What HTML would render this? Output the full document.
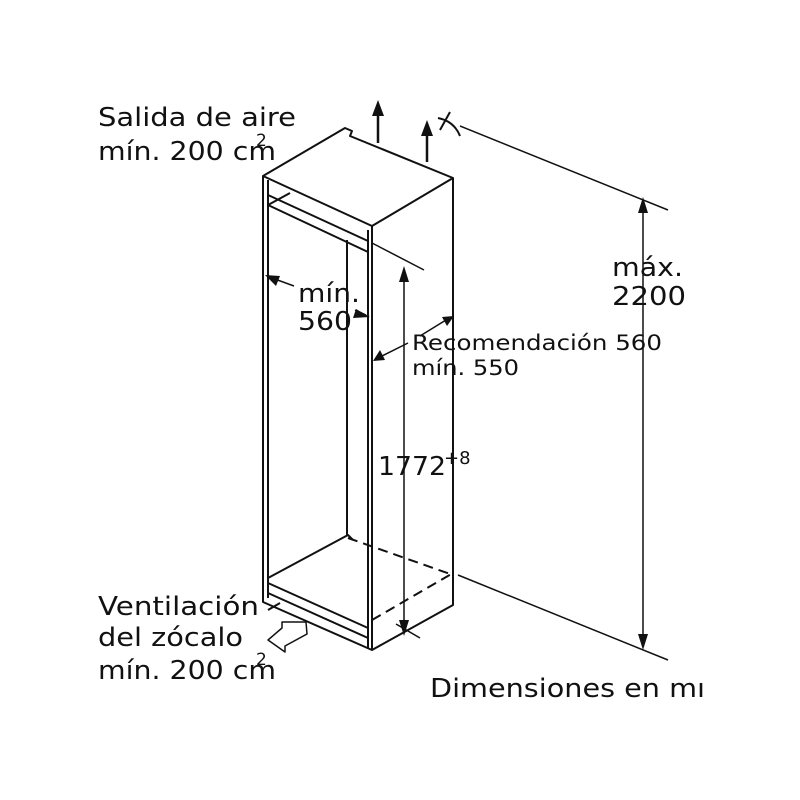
<!DOCTYPE html>
<html><head><style>body{margin:0;background:#fff}svg{display:block}</style></head><body>
<svg width="800" height="800" viewBox="0 0 800 800" xmlns="http://www.w3.org/2000/svg" font-family="DejaVu Sans, Liberation Sans, sans-serif">
<rect width="800" height="800" fill="#fff"/>
<g stroke="#111" stroke-width="2" fill="none" stroke-linejoin="round">
<path d="M263,176 L345,128 L352,131 L350,136 L453,178 L453,605 L372,650 L263,602 Z"/>
<path d="M263,176 L372,226 L453,178"/>
<path d="M372,226 L372,650"/>
<path d="M368,230 L368,648"/>
<path d="M268,180 L268,598"/>
<path d="M268,195 L368,241"/>
<path d="M268,205 L368,252"/>
<path d="M268,205 L290,193"/>
<path d="M347,240 L347,535"/>
<path d="M268,578 L348,535 L353,540"/>
<path d="M268,583 L368,628"/>
<path d="M268,593 L368,638"/>
<path d="M268,610 L280,603"/>
<path d="M348,538 L453,575" stroke-dasharray="10,6"/>
<path d="M372,620 L453,573" stroke-dasharray="10,6"/>
<path d="M460,126 L668,210" stroke-width="1.5"/>
<path d="M458,575 L668,660" stroke-width="1.5"/>
<path d="M372,243 L424,270" stroke-width="1.5"/>
<path d="M396,624 L420,638" stroke-width="1.5"/>
<path d="M643,205 L643,642" stroke-width="1.5"/>
<path d="M404,275 L404,628" stroke-width="1.5"/>
<path d="M272,278 L294,286" stroke-width="1.5"/>
<path d="M355,310 L366,315" stroke-width="1.5"/>
<path d="M380,357 L408,343 M420,336 L446,320" stroke-width="1.5"/>
<path d="M378,143 L378,112 M427,162 L427,132" stroke-width="2.5"/>
<path d="M440,130 L450,112 M438,118 C448,120 456,126 460,136"/>
<path d="M268,640 L282,628 L282,622 L306,622 L307,634 L285,646 L285,652 Z" stroke-width="1.5"/>
</g>
<g fill="#111">
<path d="M643,197 L638,213 L648,213 Z"/>
<path d="M643,650 L638,634 L648,634 Z"/>
<path d="M404,266 L399,282 L409,282 Z"/>
<path d="M404,636 L399,620 L409,620 Z"/>
<path d="M378,100 L372,116 L384,116 Z"/>
<path d="M427,120 L421,136 L433,136 Z"/>
<path d="M265,275 L280,276 L276,286 Z"/>
<path d="M370,317 L356,309 L353,318 Z"/>
<path d="M373,361 L380,350 L385,360 Z"/>
<path d="M454,316 L442,317 L447,326 Z"/>
</g>
<g font-size="26" fill="#111" lengthAdjust="spacingAndGlyphs">
<text x="98" y="126" textLength="198" lengthAdjust="spacingAndGlyphs">Salida de aire</text>
<text x="98" y="160" textLength="178" lengthAdjust="spacingAndGlyphs">mín. 200 cm</text>
<text x="256" y="146" font-size="17">2</text>
<text x="612" y="276" textLength="71" lengthAdjust="spacingAndGlyphs">máx.</text>
<text x="612" y="305" textLength="74" lengthAdjust="spacingAndGlyphs">2200</text>
<text x="298" y="302" textLength="62" lengthAdjust="spacingAndGlyphs">mín.</text>
<text x="298" y="330" textLength="54" lengthAdjust="spacingAndGlyphs">560</text>
<text x="378" y="475" textLength="68" lengthAdjust="spacingAndGlyphs">1772</text>
<text x="444" y="464" font-size="18">+8</text>
<text x="98" y="615" textLength="161" lengthAdjust="spacingAndGlyphs">Ventilación</text>
<text x="98" y="646" textLength="145" lengthAdjust="spacingAndGlyphs">del zócalo</text>
<text x="98" y="679" textLength="178" lengthAdjust="spacingAndGlyphs">mín. 200 cm</text>
<text x="256" y="665" font-size="17">2</text>
<text x="430" y="697" textLength="275" lengthAdjust="spacingAndGlyphs">Dimensiones en mı</text>
</g>
<g font-size="21" fill="#111">
<text x="412" y="350" textLength="250" lengthAdjust="spacingAndGlyphs">Recomendación 560</text>
<text x="412" y="375" textLength="107" lengthAdjust="spacingAndGlyphs">mín. 550</text>
</g>
<rect x="703" y="670" width="97" height="40" fill="#fff"/>
</svg>
</body></html>
